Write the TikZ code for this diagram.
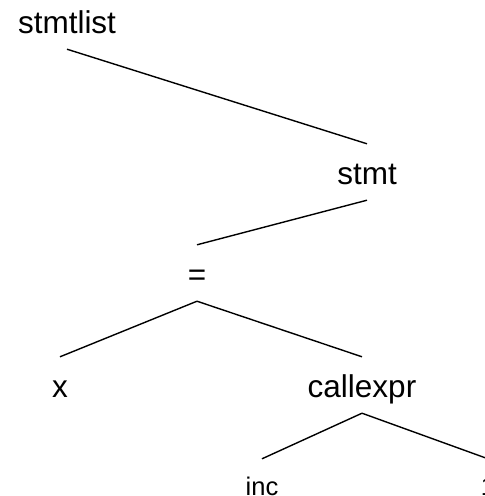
\documentclass[tikz,border=0pt]{standalone}
\usepackage{fontspec}
\setmainfont{Liberation Sans}
\begin{document}
\begin{tikzpicture}[x=1pt,y=-1pt,
  tok/.style={anchor=base,inner sep=0pt,font=\fontsize{31.5}{38}\selectfont,
    text height=40pt,text depth=16pt},
  leaf/.style={anchor=base,inner sep=0pt,font=\fontsize{25.5}{30}\selectfont,
    text height=36pt,text depth=16pt},
  edge/.style={line width=1.4pt}]
  \clip (0,0) rectangle (485,496);
  \fill[white] (0,0) rectangle (485,496);
  % parse tree nodes, placed on their baselines
  \node[tok]  (stmtlist) at (67,33)   {stmtlist};
  \node[tok]  (stmt)     at (367,184) {stmt};
  \node[tok]  (assign)   at (197,285) {=};
  \node[tok]  (var)      at (60,397)  {x};
  \node[tok]  (call)     at (362,397) {callexpr};
  \node[leaf] (fn)       at (262,495) {inc};
  \node[leaf] (arg)      at (488,495) {1};
  % tree edges
  \draw[edge] (stmtlist.south) -- (stmt.north);
  \draw[edge] (stmt.south) -- (assign.north);
  \draw[edge] (assign.south) -- (var.north);
  \draw[edge] (assign.south) -- (call.north);
  \draw[edge] (call.south) -- (fn.north);
  \draw[edge] (call.south) -- (arg.north);
\end{tikzpicture}
\end{document}
